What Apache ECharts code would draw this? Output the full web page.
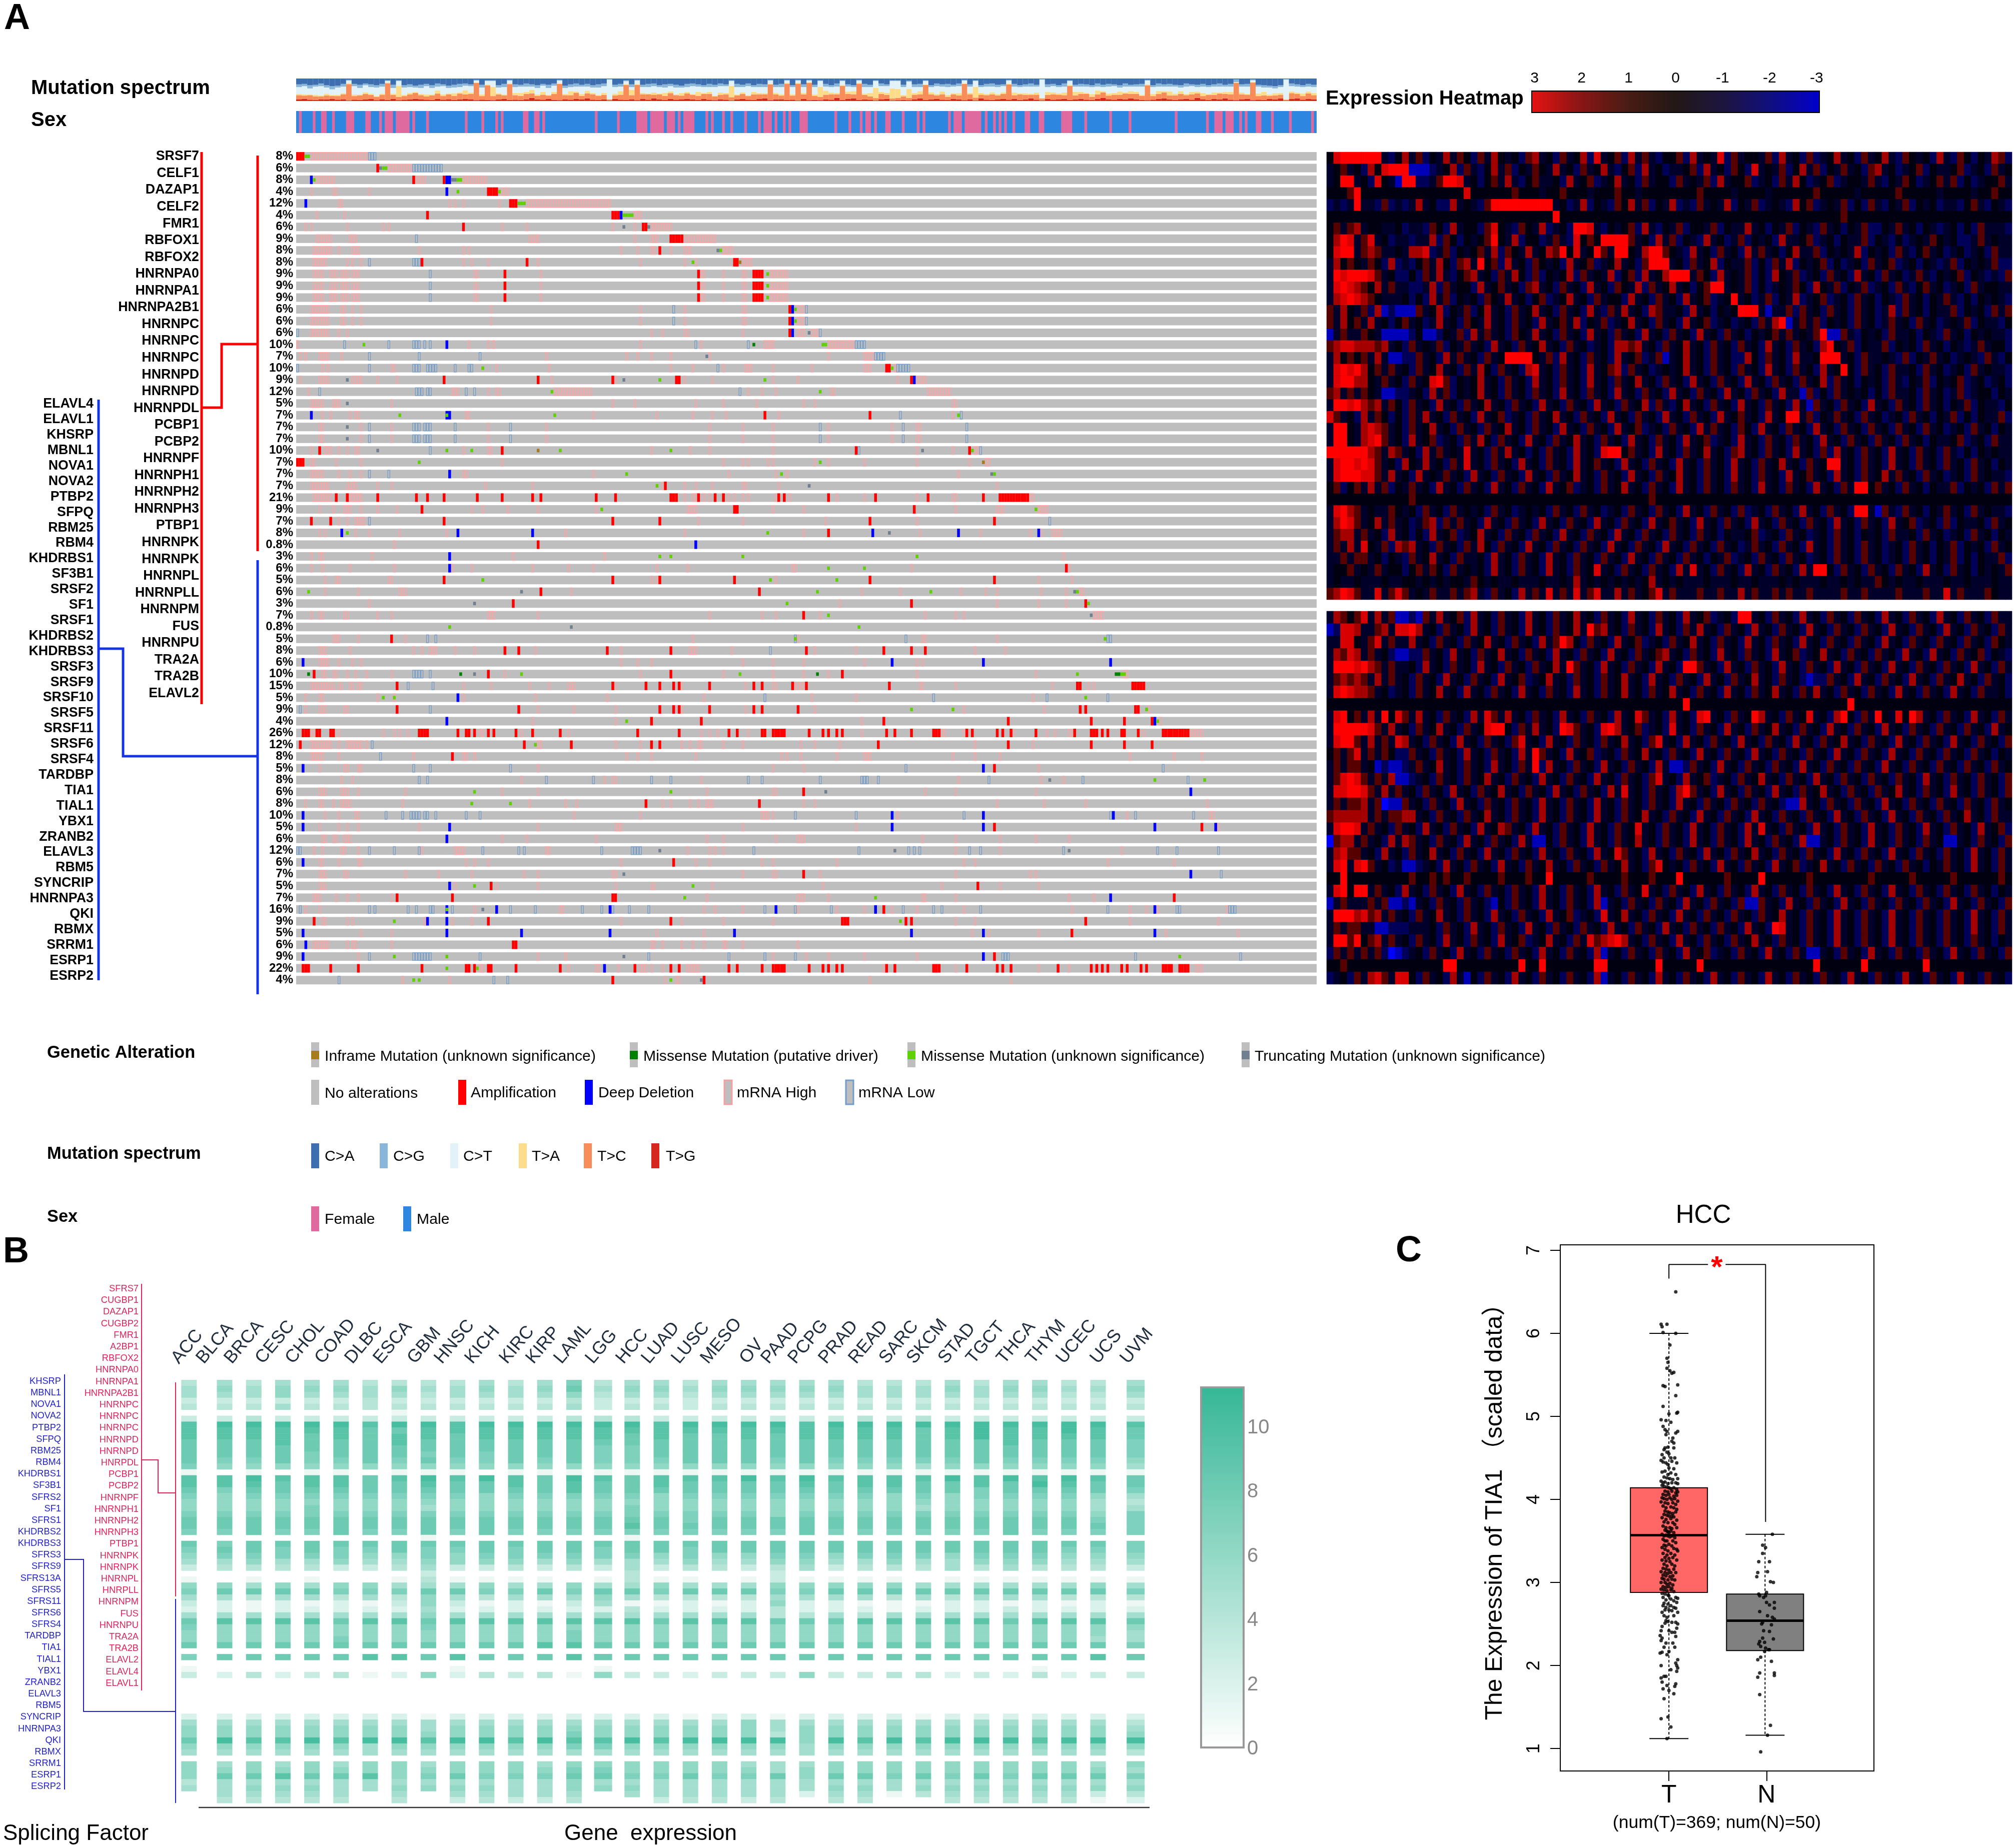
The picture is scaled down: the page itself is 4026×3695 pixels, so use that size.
<!DOCTYPE html>
<html>
<head>
<meta charset="utf-8">
<style>html,body{margin:0;padding:0;background:#fff}#main{width:4026px;height:3695px}</style>
<script src="https://cdn.jsdelivr.net/npm/echarts@6/dist/echarts.min.js"></script>
</head>
<body>
<div id="main"></div>
<script>
// ---------- panel A data ----------
var redGenes = ['SRSF7','CELF1','DAZAP1','CELF2','FMR1','RBFOX1','RBFOX2','HNRNPA0','HNRNPA1','HNRNPA2B1','HNRNPC','HNRNPC','HNRNPC','HNRNPD','HNRNPD','HNRNPDL','PCBP1','PCBP2','HNRNPF','HNRNPH1','HNRNPH2','HNRNPH3','PTBP1','HNRNPK','HNRNPK','HNRNPL','HNRNPLL','HNRNPM','FUS','HNRNPU','TRA2A','TRA2B','ELAVL2'];
var blueGenes = ['ELAVL4','ELAVL1','KHSRP','MBNL1','NOVA1','NOVA2','PTBP2','SFPQ','RBM25','RBM4','KHDRBS1','SF3B1','SRSF2','SF1','SRSF1','KHDRBS2','KHDRBS3','SRSF3','SRSF9','SRSF10','SRSF5','SRSF11','SRSF6','SRSF4','TARDBP','TIA1','TIAL1','YBX1','ZRANB2','ELAVL3','RBM5','SYNCRIP','HNRNPA3','QKI','RBMX','SRRM1','ESRP1','ESRP2'];
var rowPct = ['8%','6%','8%','4%','12%','4%','6%','9%','8%','8%','9%','9%','9%','6%','6%','6%','10%','7%','10%','9%','12%','5%','7%','7%','7%','10%','7%','7%','7%','21%','9%','7%','8%','0.8%','3%','6%','5%','6%','3%','7%','0.8%','5%','8%','6%','10%','15%','5%','9%','4%','26%','12%','8%','5%','8%','6%','8%','10%','5%','6%','12%','6%','7%','5%','7%','16%','9%','5%','6%','9%','22%','4%'];
var sampleCount = 369;

var ampEvents = {0:'0-2',1:'29',2:'42 53',3:'69-72',4:'77-79',5:'47 114-116',6:'60 125-126',7:'135-139',8:'131',9:'45 83 158-159',10:'75 145 165-168',11:'75 145 165-168',12:'75 145 165-168',13:'178',14:'178',15:'178',18:'213-214',19:'53 87 114 137-138 222',22:'169 207',25:'8 74 202 243',26:'0-2',28:'133',
29:'14 18 29 43 47 53 65 74 85 88 108 115 135-137 145 151 154 174 176 192 209 228 248 254-264',30:'45 158-159 223',31:'5 12 53 114 131 207 252',32:'192',33:'87',35:'278',36:'53 114 131 158 207 252',37:'88 167',38:'78 222 285',39:'183',41:'34',42:'75 80 112 135 184 212 222 227',44:'6 69 135 197',
45:'36 114 126 131 136 138 149 165 168 179 184 214 282-283 302-306',47:'36 80 131 136 138 149 165 168 181 283 285 303-304',48:'128 146 212 257 287 299 309',
49:'2-4 7-8 12-13 44-47 58 61-62 64 69 71 79 85 95 123 138 156 159 168-169 172-176 185 190 192 195 197 213 216 222 230-232 242 244 253 255 258 267 281 287-289 291 293 298 299 304 313-322',
50:'1 82 99 128 131 210 257 287 299 309',51:'56',52:'252',54:'183',55:'126 167',57:'252 327',60:'136',61:'183',62:'70 246',63:'36 56 114-115 317',64:'212',65:'6 69 135 197-199 220 222 285',66:'280',67:'78-79',68:'252',
69:'2-4 12 22 45 61-62 64 69-70 79 95 122 135 138 156 159 168 172-176 185 190 192 195 197 213 216 230-232 242 253 255 258 275 287 289 291 293 298 300 305 307 313-316 319-322',70:'114 147'};
var delEvents = {2:'5 54-55',3:'54',4:'3',5:'117',13:'179',14:'179',15:'179',16:'54',19:'223',22:'5 54-55',27:'55',32:'16 58 85 208 239 268',33:'144',34:'55',35:'55',43:'2 215 248 294',46:'58',48:'54 310',52:'2 248',54:'323',56:'2 215 248 295',57:'2 55 215 248 310 332',58:'54',60:'2',61:'323',62:'55',63:'294',64:'54 72 113 173 209 310',65:'47 54',66:'2 54 81 113 158 222 248 310',67:'3',68:'2 248',69:'111'};
var highEvents = {0:'5-25',1:'33-41',2:'7-13 43-46 60-68',3:'5 13-14 26 74-76',4:'15-16 55 57 60 73 83-113',5:'7 17 122-124',6:'3 5 18 31 33 74 83 114 122 128-135',7:'7-12 19-21 84-87 122 128-130 140-151',8:'6-12 15 20-22 44 60 62 117 123 128-129 135 140-142 154-157',9:'6-10 18 20 23 60 63 69 87 124 140 144 161-164',
10:'6-9 12-14 16-18 20-22 64-65 88 146-147 154 161-162 171-177',11:'6-9 12-14 16-18 20-22 64-65 88 146-147 154 161-162 171-177',12:'6-9 12-14 16-18 20-22 64-65 88 146-147 154 161-162 171-177',13:'5-11 16-17 20 23 70 124 140 161-162 181-183',14:'5-11 16-17 20 23 70 124 140 161-162 181-183',15:'5-11 15 18 128 132 140-141 161 181-183 186-188',16:'0 62 69 71 124 146 169-172 192-201',17:'1 3 8-11 16 90 119 123 128 135 149 192 205-208',18:'9 11 34-35 72 91 135 143 154 162-164 172 186 205-207 216-217',19:'1 8-11 20-23 29 36 92 115 140 150 172 181 217 224-227',
20:'4 56-58 69 72-73 93-106 163 168 173 193-194 228-236',21:'5-9 13-15 34 114 122 144 154 166 183 187 237-238',22:'9 12 19 21-22 61-62 107 130 143 150 155 174 237',23:'8-9 23 34 69 90 149 161 172 192 215 224-225',24:'8-9 23 34 69 90 149 161 172 192 215 224-225',25:'5 10-12 15 18 21-22 60 69-70 128 142 149 172 224 237 245-246',26:'5-6 14 23 74 154 161 163 170 172 187 192 205 224 243 249-250',27:'5-9 15 19 23 60-61 107 156 173 177 239',28:'5-11 18-21 29 34 68 85 132 140 144 150 161-162 174 253',29:'6-12 18-23 140 143-144 147 149 156 158 161 163 173 178 195 205 224 237-238 265-266',
30:'8 13 17-19 23 29 36 63 67 76 87 108 141-144 172 183 238 253-255 268-271',31:'15 18 21-24 145 161 191 224',32:'8 10 21 26 37 54 97 140 183 225 247 265 269 273-276',33:'35',34:'5 8-9 27 78 111 277',35:'5 9 19 35 56 63 85 98 107 130 141 179-180 222 279',36:'10 14-15 33-34 128 130 173 268 280',37:'10 22 37-39 99 204 218 240 249 253 269 278 283-284',38:'26 196 253 268 278',39:'5 8-9 17-18 29 34 69-71 87 149 168 173 189 227 238 241 288-291',
41:'13-15 22 39 143 181 226-227 253',42:'8-10 19 42 45 48-50 57 64 86 117 142-144 157 187 202 245 256',43:'8-11 15 20 23 117 123 128 161 172 183 205 224 226',44:'9-10 13-14 18 21 25 34 75 124 154 172 183 192 224 267 299-300',45:'5-13 15-16 19-20 22-23 60 70 84 91 98-100 115 139 162 172-173 180-183 225-226 238 273 286 288',46:'3 8-9 29 35 60 86 112 147 186 202 266',47:'3 8-10 17-18 87 100 115 139 162 187 241 270 308',48:'85 115 204 312',49:'5-6 15 31 35 37 40 66-67 81 98 146 149 152 163 204 233-234 241 259 271 274 279-280 306 323-327',
50:'5-12 15 18-23 25 87-88 115 124 139 142 145-146 154 161 182 187 196 245 266',51:'5-9 15 42 60-61 64 119 123 128 144 175 177 182 195 205-207 237 245 254 301 317 327',52:'8 17-18 22-23 87 172 183 268',53:'16 20 81 111 114-115 146 239 269 277',54:'8-10 16-18 22 39 74 87 148 172-173 227 238 267',55:'3 8-9 13 16-19 38 84 97 101 132 135 142 145 148-150 183 187 253 270 285 329',56:'10 15 21-22 100 124 168-170 172 217 300 330-331',57:'8 15 18 22 44 87 115-117 161 202 333',58:'9-10 13-14 17-19 74 83 108 148 154 173 181-183 226 238 254 267 279',59:'6 9 16-17 22 45 57-60 90-91 141 149 151 154 238 254 298',
60:'8-9 15 22-23 61 64 69 117 144 149 168 172 195 241 245 293 317',61:'8-10 17-18 39 51 63 82 87 114-115 161 172-173 189 238 265 267',62:'8-10 57 72 87 115 128-129 150 190 233 254 268',63:'6-8 14 18 22 34 148 181-183 192 226-227 238 279 288',64:'3 8 64 95-96 147 151 161 181 195 205 215 224 241 280 301 307 311 336',65:'9-10 18 20 46 56 63 117 139 154 172 238 245 301 333',66:'23 34 130 147 244 250 268 314 340',67:'6-11 18 20-21 34 128-129 132 139 143 147 154-155 161 181',68:'22 87 97 172 184 192 205 224',69:'66-67 98 108-109 116 124-126 128 132 141-145 212 238 268 279 325-327',70:'38 55 133 137-138 207 258'};
var lowEvents = {0:'26-28',1:'42-52',7:'43',9:'26 42-44',10:'48',11:'48',12:'48',13:'136 184',14:'136 184',15:'0 189',16:'17 33 42-44 46 48 144 163 202-205',17:'26 44 66 209-212',18:'0 26 42-44 47-50 57 62-63 152 217-221',20:'8 43-45 47-48 61 64 160',22:'218 240',23:'26 42-44 46-48 57 77 189 219 242',24:'26 42-44 46-48 57 77 189 219 242',25:'48 203 247',27:'26 33',31:'26 272',41:'47 50 180 220 293-294',42:'171',44:'42-45 48',45:'40 49',46:'169 230 271 293',47:'1 48',50:'27',51:'30',52:'42 48 77 220 313',53:'44 47 90 107 128 135 163 168 189 204-206 210 250 284 322',56:'32 38 41-44 46-47 50 61 66 180 202 241 294 303 324',59:'0-1 26 35 44 67 80 82 110 121-124 165 203 221 223 225 243 247 277 311 318 333',61:'334',64:'1 26 28 40 43 48-49 56 77 86 103 110 114 120 127 169 180 193 219 230 233 247 293 318-319 337-339',68:'26 42-48 66 127 156 169 180 255-257 303 341',70:'15 71 76'};
var misEvents = {0:'3-4',1:'31-32',2:'6 58-59',3:'58 73',4:'80-82',5:'118-121',8:'153',9:'143',10:'170',11:'170',12:'170',13:'180',14:'180',16:'24 190-191',18:'67 215',19:'131 169',20:'92 189',22:'37 54 93 239',25:'54 63 95 135 244',26:'44 189',27:'119 175 252',28:'130',30:'110 267',32:'18 170',34:'131 135 161 224',35:'192 205',36:'67 171 195',37:'4 188 229 282',38:'177 286',39:'192',40:'55 203',41:'180 292',44:'81 160 282 298-299',46:'31 35 285',47:'222 237 307',48:'119 311',50:'86',53:'310 328',54:'64 135',55:'63 77',62:'64 143',63:'140 209',64:'54',65:'35 218',68:'35 54 319',69:'54 65',70:'42 44 135'};
var drvEvents = {16:'165',44:'4 59 188 296-297'};
var truncEvents = {1:'30',2:'56-57',6:'118 127',8:'152',15:'185',17:'148',19:'18 118',21:'18',23:'18',24:'18',25:'29 226',27:'251',28:'185',32:'214',37:'81 281',38:'64',39:'287',40:'99',44:'64',53:'272',54:'191',59:'131 216 279',61:'118',64:'67',68:'118',70:'146'};
var inframeEvents = {9:'160',25:'87',26:'248'};

// first sample and length of every run of female samples, the rest are male
var sexFemale = [[1,1],[6,1],[9,2],[13,1],[18,3],[25,2],[30,1],[32,3],[36,5],[42,1],[47,1],[61,1],[67,1],[72,1],[74,1],[82,2],[86,2],[89,1],[108,1],[116,1],[123,4],[128,5],[134,3],[138,1],[140,4],[148,1],[150,1],[154,1],[157,1],[162,1],[167,1],[169,3],[173,1],[176,1],[178,1],[182,3],[194.6,1],[199.7,1],[203.8,1],[205.8,2],[209,1],[213,2],[219,1],[224.4,1],[226.5,1],[235.7,1],[237.7,3],[241.7,6],[249,1],[252,1],[254,1],[256,1],[259,1],[263.4,2],[268.5,2],[276.6,4],[285,1],[294,1],[301,1],[317.7,1],[329,1],[332,3],[336,3],[341,1],[343,1],[347,2],[352.5,1],[359,1],[367,1]];

// mutation spectrum, share of each class in 184 columns (2 samples each); C>T is what is left of 100
var specCA = [26,24,30,28,22,30,34,32,24,6,24,28,22,26,30,24,8,28,8,30,
26,32,28,24,30,22,26,32,28,24,22,26,6,28,8,8,30,24,6,26,
28,22,26,30,24,28,22,6,32,26,22,28,24,30,26,22,3,28,24,8,
26,6,28,24,22,30,26,24,28,32,24,22,26,30,24,28,22,26,8,24,
28,22,30,24,26,6,28,24,6,30,6,26,6,28,8,24,30,22,8,26,
30,6,24,28,8,22,26,8,8,28,10,26,24,8,30,22,26,24,28,22,
6,26,8,30,24,22,28,26,6,24,30,26,22,28,3,26,24,30,22,8,
28,24,26,30,22,28,24,26,30,22,28,26,24,6,30,22,26,24,28,30,
22,26,28,24,30,26,22,28,24,4,26,24,4,28,30,32,34,30,3,22,
26,30,24,28];
var specCG = [12,10,14,8,12,10,14,8,12,3,10,14,8,12,10,12,3,14,3,10,
12,8,14,10,12,14,8,10,12,14,10,8,3,12,3,3,10,14,3,12,
8,14,10,12,8,14,10,3,10,12,14,8,12,10,14,12,2,10,12,4,
12,3,10,14,12,8,14,10,12,8,14,12,10,8,14,10,12,8,3,14,
10,12,8,14,12,3,10,14,3,8,3,12,3,10,3,12,8,14,3,10,
8,3,14,10,3,12,8,3,3,10,4,12,14,3,8,12,10,14,8,12,
3,10,3,8,12,14,10,8,3,12,8,10,14,8,2,12,10,8,14,3,
8,12,10,8,14,10,12,8,10,14,8,10,12,3,8,14,10,12,8,10,
14,8,10,12,8,10,14,8,12,12,10,12,4,8,10,8,10,8,2,12,
10,8,12,10];
var specTA = [5,6,4,7,5,8,4,6,5,4,7,5,8,6,4,5,3,6,50,6,
8,4,6,10,5,14,8,4,12,6,18,6,3,8,4,40,6,4,3,10,
14,8,16,6,12,4,10,3,6,18,5,8,12,6,4,10,2,8,16,4,
24,3,6,4,10,5,14,8,4,12,6,5,18,6,8,4,10,6,50,5,
8,4,12,6,5,3,8,6,4,6,3,8,4,6,45,18,8,6,4,10,
14,4,6,16,45,8,10,45,40,6,40,8,14,3,10,6,12,8,5,10,
3,6,48,8,5,10,6,8,3,12,6,8,5,10,2,14,8,6,12,4,
16,8,5,12,18,6,10,8,14,6,12,8,5,4,10,14,6,18,8,12,
6,10,8,14,5,12,6,8,10,3,8,4,3,12,16,6,10,8,2,8,
6,12,8,10];
var specTC = [18,14,20,16,12,18,14,16,22,72,16,20,24,18,14,20,74,18,14,16,
22,26,18,14,20,24,16,22,18,26,20,24,76,16,64,18,22,16,70,20,
18,24,20,16,22,14,26,72,18,20,28,16,22,24,18,20,4,16,22,66,
18,68,20,24,16,22,18,26,20,16,24,20,18,22,26,16,20,24,14,18,
22,16,24,20,18,70,22,16,72,18,74,20,76,18,14,20,24,16,62,22,
18,72,20,14,10,24,18,8,10,16,10,20,18,66,22,16,24,14,20,18,
72,22,12,16,20,24,18,22,68,16,24,20,16,22,8,18,24,20,16,62,
18,22,26,14,20,24,16,22,18,26,20,24,18,66,16,22,26,18,20,24,
16,24,20,14,22,18,26,20,24,76,22,18,78,16,20,14,18,16,4,26,
20,16,24,18];
var specTG = [8,10,6,5,8,7,9,6,8,3,6,5,7,9,4,8,5,9,4,6,
7,10,8,6,5,9,6,8,5,7,10,8,4,6,5,4,7,9,5,6,
5,8,14,7,6,10,5,4,8,6,9,7,12,6,5,7,3,9,6,5,
8,4,10,6,12,7,5,9,6,8,10,7,5,9,6,4,8,6,3,7,
9,6,5,10,12,4,7,8,5,6,3,9,4,5,4,8,6,14,5,10,
12,5,7,6,3,8,9,3,4,5,4,8,12,5,7,9,6,5,10,7,
4,8,3,12,6,5,7,9,6,10,5,7,12,6,3,9,6,8,10,5,
7,10,6,5,9,14,8,6,10,7,12,8,5,4,6,9,12,7,5,8,
10,6,14,8,5,9,7,12,6,4,8,10,4,6,5,9,7,12,2,9,
12,6,10,8];

// expression heatmap, one character per cell: 0 = -3 (blue) ... 4 = 0 (black) ... 8 = +3 (red)
var heatTop = [
'4788888832 4635243635 4253643425 6342534627 3452635324 4526343725 3443526342 5234634253 4632543426 3254243652',
'3453426478 8811123462 5324635243 5436342534 6324526342 3345263425 4273435246 3524353425 6342345243 3452342534',
'3488342743 1882235887 3424536324 5334263452 3463425344 2534352634 4523425364 2345234435 3243542345 3524234453',
'4445844444 4444444444 7444444544 4344544434 4454434444 4444544443 4444344444 4544444344 4445444443 4444344544',
'2323833252 3236342263 4325888888 8883423624 3254635243 6232534362 4352343264 5234352425 3243524342 3324532432',
'4444444444 4444444444 4444444444 4448444444 4444444444 4444444444 4444444444 4444454444 4444444444 4444444444',
'4535634433 4233254263 4425743254 3623428873 2434526324 3524435243 3634243524 3253424352 2435342432 3424253332',
'4687357342 3323362542 4345843624 4235327454 8888534263 5243263423 5243426334 5234243352 4324234354 3422353433',
'4788356533 4366723524 3453625436 3465847348 5388436885 4326342534 2635342463 3524343624 3425324534 2342342533',
'3645435426 2324536425 6384526342 5434263452 3463425888 3425346243 3524253624 3452423425 3452342432 3524343522',
'3878887534 2242536324 5634253642 5243462534 3624526346 8883542634 3524264352 3425342634 2534235324 3452432325',
'3787654635 3322362534 4263453425 6342534263 4254362534 6342458834 3524234354 2643524352 3425324534 2342534433',
'3678765433 3424263524 3425436342 4523463425 3442634253 4263452348 3423524362 3452342534 2432534243 5324243432',
'5364352612 1115346243 5246342534 6342534263 2536342653 3426342434 8883133525 3425342534 2362534243 3524342535',
'5364536342 4534236342 5436342534 2634536243 5234634253 4263452342 3425368135 3524342534 2353425342 3435243324',
'1353354311 1124112435 2635342543 6342534263 4253426342 5342634253 4243453534 3581153243 4253342432 5342434332',
'5677666563 4253435243 5342634253 4634253423 4266563425 3463425342 5342634253 4268435243 3524342534 2432353442',
'3645453631 1225342635 3425348888 4352634253 4263452351 3463425342 2642534263 3488834253 3432524353 4234325324',
'3787864535 3425346342 5364253426 7342534263 4562534234 3463425342 5342634253 4263484253 4253342534 2342534332',
'3788664353 4253478524 3463425342 6342534263 4253463425 3426342534 2634253425 3462534243 4253243524 3452342342',
'5635354311 2234263524 3463425342 5342634253 4263425342 6342534263 4253426331 5242534342 4253342534 2352344243',
'3887865635 4253426342 5346342534 2634253426 3425346253 2463425342 6342534263 1534253426 3425342534 2435243324',
'7534263542 4253634253 4263452342 5346342534 2634253426 3425342634 5342634883 5243534253 4234253424 3524243352',
'3884367653 4253463425 3425346342 5342634253 4263452342 5342635342 5426342534 2634253425 3425342534 2342534243',
'3884367853 4263452342 5364253426 3425346342 5342634253 4263452342 6342534253 4263425342 5342534243 3452342533',
'8888886536 5342635343 7342536342 4253426342 7884534263 4253463425 6342534263 4252634253 4263425342 5324243433',
'3788787534 2643634253 7342534263 4253426345 3426342534 2634253426 3425346342 5348834253 4263425342 5342534243',
'3788877536 3426343534 2634253426 3425346342 5342634253 4634253426 3425342634 5342634253 4635342534 2342534332',
'4524536352 4353426342 5342634253 4263452342 5346342534 2634253425 3426342534 2634253884 5342534243 3524342535',
'4444444444 4454444444 4444444444 4444444444 4444444544 4444444444 4444444444 4444444444 4444444444 4444444444',
'3786534335 4342534253 4342534234 3425342534 2342534253 4263425342 5234253426 3425342883 1532534243 5342534332',
'3687534635 3423562535 3426342534 2634253426 3425342634 5342634253 4263425342 5342634253 4263452342 5243342534',
'3566353426 3424263452 3463425342 5342634253 4263425342 5342534243 3452342534 2342534243 4253342534 2342534243',
'3536374352 6563425342 5364253426 3425342534 2634253426 3425342534 2353425342 6342534253 4234253424 3524342534',
'3353553424 3253463425 3342634253 4263425342 5342634253 4253424352 3425342534 2342534253 4234253424 3524243352',
'3445343534 4245354253 4342634253 4263425347 3425342534 2637342534 2634253426 3884253425 3425342634 2534243435',
'3433433343 3443434344 3543433433 3433436343 4343434634 3433343334 3343334343 3343343433 5434334333 4334333433',
'5687533735 7534353353 5632534263 5373537357 3363534573 5333533533 6353353533 5333353353 3335333533 7353335433'
];
var heatBottom = [
'3654573635 1121536345 2634253426 3425346342 5342634253 4263452342 8834253426 3425342534 2634253426 3425342533',
'1277633563 7786342534 2634253426 3425346385 6342534263 4253634253 4263425342 6342534253 4263425342 6342534253',
'3377435735 3363425342 5346342534 2635864253 4263452342 5346342534 2634253426 3425342534 2634253425 3425342543',
'3657635342 1122534263 4253463425 3426342534 2634253456 3425342634 2534263452 3463425342 5342634263 4253452432',
'3888786535 3342634253 4263425342 5346385342 6342534263 4288534263 4253426342 5342634253 4263425342 5342634253',
'3565653635 3425342634 2534263452 3463425342 5346342634 2534263425 3463425342 1225342634 2534263425 3463425342',
'3787665342 3425346342 6342534263 4253426342 5346342534 6342534263 4253463425 3634253425 3426342534 2634253342',
'4444444444 4444444444 4444444444 4444444444 4444444444 4484444444 4444444444 4444448444 4444444444 4444444444',
'3784536384 7536342534 2637536342 5342634253 4263475342 6342783425 3486342534 7342684253 8437486342 5342634253',
'3888887536 3425346342 5347884253 6342875342 7863452342 7342534263 4253463425 3426342534 2634253425 3425342634',
'3788536353 7634253426 3425342573 4263425342 5346342573 4263425342 6342534263 4253463425 3426342534 2634253425',
'4535735354 2253425342 6342534263 8534263452 3425346342 5342634253 4263425342 5342634253 4263425342 5342534243',
'3535534121 1235346342 5342634253 8263425342 6342534263 1125342634 2534253426 3425342534 2634253425 3425342534',
'3578753536 1123425342 5346342534 2634253426 3425342573 4263452342 5346342534 2634253425 3425342634 2534253425',
'3778875363 5342534263 4253463425 3426342534 2637342534 2685342634 2534263425 3463425342 5346342534 2634253425',
'3535563501 1534253426 3425342534 2634253426 3425342534 2634253425 3425342116 3425342534 2634253425 3425342534',
'5666663535 5663425342 5346342534 2634253426 3425346342 5342634253 4263425342 5342634253 4263425342 5346342533',
'3788735342 5342634253 4263465342 6342534263 4253473425 3426342534 2637342534 2634253426 3425342634 2534263452',
'0566353426 3653425342 6342534263 1142534263 4253463425 3426342534 2634253426 1134253426 3425342534 1134253425',
'3675534263 4253463425 3426342534 2634253426 3475342634 2534263425 3463425342 5342634253 4263425342 5342634253',
'3783785342 3112342634 2534263425 3463425342 5346342574 3425342634 2534263452 3463425342 5342534243 5342634253',
'4484444444 4454454544 5444454445 4484444454 4445444544 4844444454 4448444444 5444444445 4444454444 4544444454',
'3784883534 2634253426 3425342534 2634253426 3425347342 5342634253 4263425342 5342634253 4263425342 5342534243',
'1353335351 1213425342 5342142534 2634253426 1342534253 4263425342 5115342634 2534263425 3425342534 2634253425',
'3888675635 3425346342 5342634253 4263452342 7346342534 2634253425 3425346342 5342634253 4263425342 5342634253',
'3535533112 2233342534 2634253426 3425342534 2634253426 3425342534 2634287342 5342634253 4263425342 5342634253',
'3885845635 3425342634 2534263452 3463425375 6786342534 2634253425 3463425342 5342634253 4263425342 5342534243',
'2535353520 1234253426 3425342534 2634253426 1342534253 4263452342 5342634253 1134253426 3425342534 2634253425',
'4454444444 4444444884 4444444484 4844444448 8444444484 4444844444 4444444444 4844444484 4444444844 4444444444',
'2342536753 7742534263 1425342634 2534253426 1342534263 4253426342 5342634253 4253426342 5342634253 4263425342'
];
var heatColumns = 100;

// ---------- panel B data ----------
var cancerTypes = ['ACC','BLCA','BRCA','CESC','CHOL','COAD','DLBC','ESCA','GBM','HNSC','KICH','KIRC','KIRP','LAML','LGG','HCC','LUAD','LUSC','MESO','OV','PAAD','PCPG','PRAD','READ','SARC','SKCM','STAD','TGCT','THCA','THYM','UCEC','UCS','UVM'];
var redFactors = ['SFRS7','CUGBP1','DAZAP1','CUGBP2','FMR1','A2BP1','RBFOX2','HNRNPA0','HNRNPA1','HNRNPA2B1','HNRNPC','HNRNPC','HNRNPC','HNRNPD','HNRNPD','HNRPDL','PCBP1','PCBP2','HNRNPF','HNRNPH1','HNRNPH2','HNRNPH3','PTBP1','HNRNPK','HNRNPK','HNRNPL','HNRPLL','HNRNPM','FUS','HNRNPU','TRA2A','TRA2B','ELAVL2','ELAVL4','ELAVL1'];
var blueFactors = ['KHSRP','MBNL1','NOVA1','NOVA2','PTBP2','SFPQ','RBM25','RBM4','KHDRBS1','SF3B1','SFRS2','SF1','SFRS1','KHDRBS2','KHDRBS3','SFRS3','SFRS9','SFRS13A','SFRS5','SFRS11','SFRS6','SFRS4','TARDBP','TIA1','TIAL1','YBX1','ZRANB2','ELAVL3','RBM5','SYNCRIP','HNRNPA3','QKI','RBMX','SRRM1','ESRP1','ESRP2'];
// one character per cancer type (0 to b = 0 to 11), one row per splicing factor
var exprRows = [
'45455544445 45745545555 54445455445','56566656556 56856656666 65556566556','55565555455 55645545555 55555555445','33333343333 33433333333 33333333333','44454444444 44534434444 44444444444','00000001000 00000000000 00000000000','33433333333 33444333333 34343333333',
'9aaaaa9aa9a aaaaa9aaaa9 aaaaaaaaaa9','99999988999 99999999999 99989a99a98','99998989989 99998988989 99989a99998','88898889888 88888888888 88888898887','88888888888 88877888888 88888888887','88887888787 88877888888 88888888887','87787787877 87877788878 77777877776','76666666666 66666666666 66656666665','10101101110 11111111111 11111111111',
'99a99989a9a 98a98999a9a 9999a9a9a98','99989988988 98988988889 8998898a988','87888888888 88988888888 88888788887','76777777776 77777677777 77676777765','66666666666 66666666666 66666666654','66667666566 66667666666 66656666655','77777777777 77777777767 77777777767','88888888888 88888878888 88888888877','88888888888 88889888888 88888888887','77877877878 77777777778 77777787777','00000000100 00001000000 00000000000',
'87888888888 88888888888 88888888887','78878778778 78878878888 88888888777','67777766767 77777676677 67776777666','55655655666 65655565566 55655666555','34444334533 43435344345 34445454443','00000000300 00004000030 00000000000','10101001411 11014110131 11101111111',
'66565665556 55655655566 66655555565','78888777887 78788788877 88888888887','55455454654 55565444455 55454555444','32121213631 21351121262 21112212121','22122222522 22224222242 22122232222',
'55555555655 55555555544 54555555555','89999899899 99999899988 89999989998','76666666766 66666666666 66666666666','66666666666 66766666666 66666666665','66666766666 66766666666 66666666655','88888888888 89988888888 88888888887','00000000000 00000000000 00000000000','78888899898 88988888888 88888888898','00000000000 00000000000 00000000000','10000000010 00010000000 00000001000',
'32423412624 34163323336 33442324233','00000000000 00000000000 00000000000','00000000000 00000000000 00000000000','00000000000 00000000000 00000000000','00000000000 00000000000 00000000000','00000000000 00000000000 00000000000','00000000000 00000000000 00000000000','22222222122 22222212212 22212222222',
'55555555555 55555555655 55555555554','66666666566 66666666656 66666666665','66666666666 66766666646 66666666666','8a99a9aa9aa 9a99a9aaaa6 a9a9aaa9aaa','66666656666 66776666665 66666666666','55555555555 55555555555 55555555554','00000000000 00000000000 00000000000',
'65656566566 65666666555 66666666656','66666666666 66776666656 66666666665','68898896787 77887787786 88787878887','45555555555 55655555555 55555555555','55666556666 55666555555 66566666666','05555505055 55505555552 55145555534','04444404034 33400344340 44004444412'
];
var exprBarTicks = [0,2,4,6,8,10];

// ---------- panel C data ----------
// x, q1, median, q3, lower whisker, upper whisker
var boxT = [1,2.88,3.57,4.14,1.12,6.0];
var boxN = [2,2.18,2.54,2.86,1.16,3.58];
var bracket = [[1,6.66],[1,6.83],[1.40,6.83],'-',[1.58,6.83],[1.99,6.83],[1.99,3.73]];
var pointsN = [[2.06,3.58],[1.96,3.45],[1.99,3.42],[1.96,3.35],[1.92,3.25],[2.03,3.25],[2.01,3.13],[1.91,3.12],[1.90,3.07],[2.04,3.01],[2.07,3.0],[1.92,2.86],[1.93,2.84],[2.0,2.88],[1.99,2.84],[1.97,2.82],[2.0,2.76],[2.08,2.76],[2.03,2.73],[2.08,2.69],[1.93,2.65],[2.01,2.6],[2.06,2.58],[2.08,2.56],[1.96,2.52],[1.95,2.5],[2.05,2.49],[1.97,2.42],[2.03,2.41],[1.96,2.33],[1.93,2.29],[2.07,2.32],[1.92,2.26],[1.98,2.28],[1.94,2.23],[1.99,2.21],[2.02,2.19],[2.03,2.19],[1.98,2.17],[1.94,2.10],[1.91,2.07],[2.05,2.05],[1.93,1.91],[2.08,1.91],[2.08,1.88],[1.91,1.86],[1.93,1.65],[2.04,1.28],[2.01,1.16],[1.94,0.96]];
var pointsT = [[1.07,6.5],[.92,6.11],[.98,6.11],[.93,6.08],[.94,6.01],[1.07,6.0],[1.01,5.86],[.98,5.7],[.99,5.65],[.98,5.58],[1.01,5.55],[1.05,5.53],[1.03,5.52],[.94,5.37],[.96,5.36],[1.09,5.38],[1.07,5.25],[.94,5.12],[1.09,5.05],[1.08,5.04],[1.0,5.03],
[.92,4.96],[.97,4.95],[1.02,4.93],[.94,4.88],[.96,4.84],[.98,4.82],[1.09,4.82],[1.07,4.8],[.97,4.78],[1.04,4.74],[1.03,4.7],[1.05,4.68],[.99,4.63],[.96,4.62],[.95,4.6],[.98,4.57],[1.05,4.62],[1.0,4.55],[.93,4.54],[.95,4.5],[1.02,4.5],[1.06,4.5],[.92,4.47],[.94,4.45],[.97,4.44],[1.03,4.46],[1.08,4.44],[.99,4.42],[1.0,4.38],[1.05,4.37],[.96,4.34],[.93,4.33],[1.02,4.32],[.99,4.3],[1.07,4.3],[.95,4.27],[.98,4.26],[1.01,4.25],[1.04,4.24],[1.09,4.25],[.92,4.22],[.94,4.2],[.96,4.21],[.99,4.19],[1.03,4.2],[1.07,4.2],[1.09,4.19],[.93,4.17],[.95,4.16],[.98,4.15],[1.0,4.14],[1.02,4.13],[1.05,4.14],[1.08,4.12],
[.96,4.1],[.99,4.09],[1.03,4.1],[1.07,4.08],[1.09,4.09],[.94,4.06],[.97,4.05],[1.0,4.06],[1.05,4.04],[1.08,4.05],[.93,4.02],[.95,4.01],[.98,4.0],[1.01,4.02],[1.03,4.0],[1.06,4.01],[1.09,3.98],[.92,3.97],[.96,3.96],[.99,3.95],[1.04,3.96],[1.07,3.94],[.94,3.92],[.97,3.9],[1.02,3.91],[1.05,3.9],[1.08,3.88],[.96,3.86],[.99,3.85],[1.01,3.84],[1.04,3.83],[1.07,3.85],[.95,3.82],[.98,3.81],[1.0,3.8],[1.03,3.8],[1.05,3.79],[.93,3.78],[.97,3.76],[1.02,3.77],[1.08,3.75],[.95,3.73],[.99,3.72],[1.04,3.72],[1.06,3.7],[.94,3.68],[.97,3.66],[1.01,3.66],[1.03,3.65],[1.08,3.66],[.96,3.63],[.98,3.62],[.99,3.61],[1.0,3.6],[1.02,3.62],[1.05,3.6],[.93,3.58],[.95,3.56],[.97,3.57],[.99,3.56],[1.01,3.55],[1.03,3.56],[1.06,3.54],[.94,3.52],[.96,3.5],[.98,3.5],[1.04,3.5],[1.07,3.48],[.95,3.45],[.97,3.44],[1.0,3.46],[1.03,3.44],[.93,3.42],[.96,3.4],[.99,3.38],[1.05,3.41],[1.08,3.4],[1.09,3.38],[.94,3.35],[.98,3.33],[1.02,3.35],[1.06,3.33],[.96,3.3],[1.0,3.29],[1.04,3.3],[.93,3.27],[.97,3.26],[1.01,3.25],[1.08,3.27],[.95,3.22],[.98,3.2],[1.03,3.22],[1.06,3.2],[.94,3.17],[.97,3.16],[1.0,3.15],[1.05,3.16],[.92,3.13],[.96,3.12],[.99,3.11],[1.02,3.12],[1.07,3.12],[.94,3.09],[.97,3.08],[1.01,3.07],[1.04,3.08],[.93,3.05],[.95,3.04],[.99,3.03],[1.03,3.04],[1.06,3.03],[.92,3.0],[.96,3.0],[.98,2.98],[1.01,2.99],[1.04,2.97],[.94,2.95],[.97,2.94],[1.0,2.95],[1.03,2.93],[.92,2.92],[.95,2.91],[.98,2.9],[1.02,2.91],[1.05,2.89],[.93,2.87],[.96,2.86],[.99,2.85],[1.0,2.84],[.94,2.82],[1.07,2.82],[1.09,2.81],[.97,2.79],[1.02,2.8],[1.05,2.78],[.95,2.75],[.99,2.74],[1.08,2.76],[.94,2.72],[.97,2.7],[1.02,2.72],[1.05,2.7],[1.07,2.69],[.96,2.67],[1.0,2.67],[1.03,2.66],[.93,2.64],[1.09,2.64],[.95,2.6],[.98,2.58],[1.05,2.6],[.97,2.54],[.99,2.53],[.96,2.51],[1.03,2.52],[1.07,2.52],[1.09,2.5],[.93,2.47],[1.08,2.45],[.92,2.42],[1.0,2.42],[1.03,2.4],[1.06,2.4],[.91,2.36],[.93,2.33],[1.07,2.35],[.92,2.3],[.97,2.27],[1.04,2.27],[.95,2.22],[1.06,2.22],[.91,2.15],[.93,2.16],[1.0,2.17],[.98,2.13],[1.09,2.07],[1.07,2.03],[.92,2.0],[1.08,2.0],[1.09,1.97],[1.08,1.93],[1.02,1.95],[.97,1.87],[.92,1.85],[.95,1.87],[.93,1.8],[.98,1.76],[1.07,1.78],[1.06,1.75],[.94,1.72],[1.0,1.7],[1.05,1.66],[.95,1.6],[.92,1.36],[.99,1.38],[1.02,1.26],[.98,1.12]];

// ---------- helpers ----------
var FONT = '"Liberation Sans", Arial, sans-serif';
var CJK = '"Liberation Sans", "Noto Sans CJK SC", sans-serif';

function expand(str) {
    var out = [];
    str.split(' ').forEach(function (part) {
        if (!part) return;
        var p = part.split('-');
        var a = +p[0], b = p.length > 1 ? +p[1] : a;
        for (var i = a; i <= b; i++) out.push(i);
    });
    return out;
}
var oncoData = [];
function addEvents(table, kind) {
    Object.keys(table).forEach(function (row) {
        expand(table[row]).forEach(function (s) { oncoData.push([s, +row, kind]); });
    });
}
// boxes first so that solid marks stay on top
addEvents(highEvents, 0);
addEvents(lowEvents, 1);
addEvents(ampEvents, 2);
addEvents(delEvents, 3);
addEvents(misEvents, 4);
addEvents(drvEvents, 5);
addEvents(truncEvents, 6);
addEvents(inframeEvents, 7);

var MARK_COLOR = ['#ffa3a3', '#6f9ccb', '#ff0000', '#0000ff', '#5fd000', '#008000', '#708090', '#a67c1f'];
function renderOnco(params, api) {
    var kind = api.value(2);
    var p = api.coord([api.value(0), api.value(1)]);
    var w = api.size([1, 0])[0];
    var h = 17;
    if (kind < 2) {
        return { type: 'rect', shape: { x: p[0] + 0.7, y: p[1] - h / 2 + 0.7, width: w - 1.4, height: h - 1.4 },
            style: { fill: 'rgba(0,0,0,0)', stroke: MARK_COLOR[kind], lineWidth: 1.3 } };
    }
    if (kind < 4) {
        return { type: 'rect', shape: { x: p[0], y: p[1] - h / 2, width: w, height: h }, style: { fill: MARK_COLOR[kind] } };
    }
    return { type: 'rect', shape: { x: p[0], y: p[1] - 3.5, width: w, height: 7 }, style: { fill: MARK_COLOR[kind] } };
}
function renderSex(params, api) {
    var a = api.coord([api.value(0), 0]);
    var b = api.coord([api.value(0) + api.value(1), 1]);
    return { type: 'rect', shape: { x: a[0], y: b[1], width: b[0] - a[0], height: a[1] - b[1] },
        style: { fill: api.value(2) ? '#df6a9f' : '#2d87e0' } };
}
function heatCells(rows) {
    var out = [];
    rows.forEach(function (line, r) {
        var str = line.replace(/ /g, '');
        for (var c = 0; c < heatColumns && c < str.length; c++) out.push([c, r, +str.charAt(c)]);
    });
    return out;
}
var exprData = [];
exprRows.forEach(function (line, r) {
    var str = line.replace(/ /g, '');
    for (var c = 0; c < str.length; c++) {
        var v = parseInt(str.charAt(c), 36);
        if (v > 0) exprData.push([c, r, v]);
    }
});
function renderExpr(params, api) {
    var c = api.value(0);
    var p = api.coord([c, api.value(1)]);
    var rowH = api.size([0, 1])[1];
    // ACC and UVM stand a little apart from the other columns
    var shift = c === 0 ? -13 : (c === 32 ? 17 : 0);
    var w = c === 14 ? 36 : (c === 32 ? 36 : 31);
    return { type: 'rect', shape: { x: p[0] + shift - w / 2, y: p[1] - rowH / 2, width: w, height: rowH + 0.5 },
        style: { fill: api.visual('color') } };
}
function renderBox(params, api) {
    var x = api.value(0), q1 = api.value(1), med = api.value(2), q3 = api.value(3), lo = api.value(4), hi = api.value(5);
    var halfW = 77, capW = 39;
    var pQ1 = api.coord([x, q1]), pQ3 = api.coord([x, q3]), pMed = api.coord([x, med]), pLo = api.coord([x, lo]), pHi = api.coord([x, hi]);
    var cx = pQ1[0] - (params.dataIndex === 1 ? 3 : 0);
    var fill = params.dataIndex === 0 ? '#ff6666' : '#808080';
    var black = { stroke: '#000', lineWidth: 2 };
    var dash = { stroke: '#000', lineWidth: 2, lineDash: [5, 4] };
    return { type: 'group', children: [
        { type: 'line', shape: { x1: cx, y1: pHi[1], x2: cx, y2: pQ3[1] }, style: dash },
        { type: 'line', shape: { x1: cx, y1: pQ1[1], x2: cx, y2: pLo[1] }, style: dash },
        { type: 'line', shape: { x1: cx - capW, y1: pHi[1], x2: cx + capW, y2: pHi[1] }, style: black },
        { type: 'line', shape: { x1: cx - capW, y1: pLo[1], x2: cx + capW, y2: pLo[1] }, style: black },
        { type: 'rect', shape: { x: cx - halfW, y: pQ3[1], width: 2 * halfW, height: pQ1[1] - pQ3[1] }, style: { fill: fill, stroke: '#000', lineWidth: 2 } },
        { type: 'line', shape: { x1: cx - halfW, y1: pMed[1], x2: cx + halfW, y2: pMed[1] }, style: { stroke: '#000', lineWidth: 5 } }
    ] };
}

// ---------- text, lines, legend swatches ----------
var g = [];
function txt(x, y, s, font, fill, align, rot) {
    g.push({ type: 'text', x: x, y: y, rotation: rot || 0, silent: true,
        style: { text: s, font: font, fill: fill || '#000', textAlign: align || 'left', textVerticalAlign: 'middle' } });
}
function poly(points, color, width) {
    g.push({ type: 'polyline', silent: true, shape: { points: points }, style: { stroke: color, lineWidth: width, fill: null } });
}
function rect(x, y, w, h, fill, stroke, lw) {
    g.push({ type: 'rect', silent: true, shape: { x: x, y: y, width: w, height: h }, style: { fill: fill, stroke: stroke || null, lineWidth: lw || 0 } });
}
var bold40 = 'bold 40px ' + FONT, bold34 = 'bold 34.4px ' + FONT, legendFont = '30.2px ' + FONT;

txt(8, 38, 'A', 'bold 72px ' + FONT);
txt(6, 2504, 'B', 'bold 72px ' + FONT);
txt(2790, 2502, 'C', 'bold 72px ' + FONT);
txt(62, 177, 'Mutation spectrum', bold40);
txt(62, 241, 'Sex', bold40);
txt(2650, 198, 'Expression Heatmap', bold40);

redGenes.forEach(function (n, i) { txt(398, 313 + i * 33.55, n, 'bold 26.8px ' + FONT, '#000', 'right'); });
blueGenes.forEach(function (n, i) { txt(187, 808 + i * 30.9, n, 'bold 26.8px ' + FONT, '#000', 'right'); });
var RED = '#f00', BLUE = '#1433e6';
poly([[403, 304], [403, 1408]], RED, 5);
poly([[403, 815], [443, 815], [443, 688], [515, 688]], RED, 5);
poly([[515, 311], [515, 1102]], RED, 5);
poly([[197, 799], [197, 1960]], BLUE, 5);
poly([[197, 1297], [246, 1297], [246, 1512], [515, 1512]], BLUE, 5);
poly([[515, 1120], [515, 1988]], BLUE, 5);

// legend of panel A
txt(94, 2106, 'Genetic Alteration', bold34);
txt(94, 2308, 'Mutation spectrum', bold34);
txt(94, 2434, 'Sex', bold34);
function swatch(x, y, bg, inner) {
    rect(x, y, 16, 50, bg);
    if (inner) rect(x, y + 17, 16, 17, inner);
}
var grayBg = '#bebebe';
swatch(622, 2084, grayBg, '#a67c1f'); txt(649, 2113, 'Inframe Mutation (unknown significance)', legendFont);
swatch(1259, 2084, grayBg, '#008000'); txt(1286, 2113, 'Missense Mutation (putative driver)', legendFont);
swatch(1814, 2084, grayBg, '#5fd000'); txt(1841, 2113, 'Missense Mutation (unknown significance)', legendFont);
swatch(2482, 2084, grayBg, '#708090'); txt(2508, 2113, 'Truncating Mutation (unknown significance)', legendFont);
swatch(622, 2159, grayBg); txt(649, 2187, 'No alterations', legendFont);
swatch(916, 2159, '#ff0000'); txt(941, 2186, 'Amplification', legendFont);
swatch(1169, 2159, '#0000ff'); txt(1196, 2186, 'Deep Deletion', legendFont);
rect(1448, 2160, 15, 48, grayBg, '#f5a0a0', 3); txt(1473, 2186, 'mRNA High', legendFont);
rect(1691, 2160, 15, 48, grayBg, '#6f9ccb', 3); txt(1716, 2186, 'mRNA Low', legendFont);
swatch(622, 2286, '#3c6eb0'); txt(649, 2313, 'C>A', legendFont);
swatch(759, 2286, '#8ab6da'); txt(786, 2313, 'C>G', legendFont);
swatch(900, 2286, '#e1f2f8'); txt(926, 2313, 'C>T', legendFont);
swatch(1037, 2286, '#fddc8c'); txt(1063, 2313, 'T>A', legendFont);
swatch(1167, 2286, '#f88d59'); txt(1194, 2313, 'T>C', legendFont);
swatch(1302, 2286, '#d7261e'); txt(1331, 2313, 'T>G', legendFont);
swatch(622, 2412, '#df6a9f'); txt(649, 2439, 'Female', legendFont);
swatch(806, 2412, '#2d87e0'); txt(833, 2439, 'Male', legendFont);

// panel B labels and tree
var crimson = '#e0245a', indigo = '#2222cc', labelFont = '18.3px ' + FONT;
redFactors.forEach(function (n, i) { txt(277, 2577 + i * 23.2, n, labelFont, crimson, 'right'); });
blueFactors.forEach(function (n, i) { txt(122, 2762 + i * 23.15, n, labelFont, indigo, 'right'); });
poly([[283, 2567], [283, 3380]], crimson, 2);
poly([[283, 2919], [316, 2919], [316, 2985], [351, 2985]], crimson, 2);
poly([[351, 2764], [351, 3192]], crimson, 2);
poly([[129, 2748], [129, 3578]], indigo, 2);
poly([[129, 3118], [167, 3118], [167, 3422], [351, 3422]], indigo, 2);
poly([[351, 3197], [351, 3605]], indigo, 2);
poly([[397, 3614], [2298, 3614]], '#333', 2.5);
var cancerLabelLeft = [344,394,450,512,572,631,691,748,816,870,931,1000,1053,1109,1172,1233,1284,1344,1402,1480,1523,1577,1638,1698,1759,1814,1877,1933,1994,2052,2113,2181,2241];
cancerTypes.forEach(function (n, i) {
    g.push({ type: 'text', x: cancerLabelLeft[i] + 6, y: 2722, rotation: 50 * Math.PI / 180, silent: true,
        style: { text: n, font: '36px ' + FONT, fill: '#1f2d3d', textAlign: 'left', textVerticalAlign: 'middle' } });
});
exprBarTicks.forEach(function (v) { txt(2493, 3497 - v * 64.2, String(v), '40px ' + FONT, '#888'); });
txt(6, 3667, 'Splicing Factor', '44px ' + FONT);
txt(1128, 3667, 'Gene  expression', '44px ' + FONT);

// panel C texts
txt(3405, 2431, 'HCC', '51px ' + FONT, '#000', 'center');
txt(3432, 3645, '(num(T)=369; num(N)=50)', '35.5px ' + FONT, '#000', 'center');
txt(3432, 2536, '*', 'bold 60px ' + FONT, '#f00', 'center');
g.push({ type: 'text', x: 2989, y: 3011, rotation: Math.PI / 2, silent: true,
    style: { text: 'The Expression of TIA1 （scaled data）', font: '48px ' + CJK, fill: '#000', textAlign: 'center', textVerticalAlign: 'middle' } });

// ---------- chart ----------
var hidden = { show: false };
function hiddenValue(grid, min, max) {
    return { type: 'value', gridIndex: grid, min: min, max: max, show: false, splitLine: hidden };
}
var specNames = ['T>G', 'T>C', 'T>A', 'C>T', 'C>G', 'C>A'];
var specColors = ['#d7261e', '#f88d59', '#fddc8c', '#e1f2f8', '#8ab6da', '#3c6eb0'];
var specValues = [specTG, specTC, specTA, specCA.map(function (v, i) {
    return Math.max(0, 100 - v - specCG[i] - specTA[i] - specTC[i] - specTG[i]);
}), specCG, specCA];
var specCats = specCA.map(function (v, i) { return i; });
var specSeries = specNames.map(function (n, i) {
    return { name: n, type: 'bar', stack: 'spec', xAxisIndex: 0, yAxisIndex: 0, data: specValues[i], barWidth: '101%',
        itemStyle: { color: specColors[i] }, silent: true };
});
var heatCatsX = []; for (var hc = 0; hc < heatColumns; hc++) heatCatsX.push(hc);

var option = {
    animation: false,
    backgroundColor: '#fff',
    textStyle: { fontFamily: FONT },
    graphic: { elements: g },
    grid: [
        { left: 592, top: 157, width: 2040, height: 45 },
        { left: 592, top: 222, width: 2040, height: 44 },
        { left: 592, top: 300.8, width: 2040, height: 1670.6 },
        { left: 2652, top: 304, width: 1370, height: 895, show: true, backgroundColor: '#000018', borderWidth: 0 },
        { left: 2652, top: 1222, width: 1370, height: 746, show: true, backgroundColor: '#000018', borderWidth: 0 },
        { left: 3062, top: 182, width: 575, height: 43, show: true, borderColor: '#000', borderWidth: 2,
          backgroundColor: new echarts.graphic.LinearGradient(0, 0, 1, 0, [{ offset: 0, color: '#e81212' }, { offset: 0.17, color: '#8a1515' }, { offset: 0.33, color: '#4a1c14' }, { offset: 0.5, color: '#221816' }, { offset: 0.67, color: '#1c1540' }, { offset: 0.83, color: '#100e80' }, { offset: 1, color: '#0000cc' }]) },
        { left: 361.7, top: 2759, width: 1920.6, height: 846 },
        { left: 2401, top: 2774, width: 85, height: 720, show: true, borderColor: '#999', borderWidth: 4,
          backgroundColor: new echarts.graphic.LinearGradient(0, 0, 0, 1, [{ offset: 0, color: '#35b795' }, { offset: 1, color: '#ffffff' }]) },
        { left: 3119, top: 2489, width: 627, height: 1052, show: true, borderColor: '#000', borderWidth: 2 }
    ],
    xAxis: [
        { type: 'category', gridIndex: 0, data: specCats, show: false },
        hiddenValue(1, 0, sampleCount),
        hiddenValue(2, 0, sampleCount),
        { type: 'category', gridIndex: 3, data: heatCatsX, show: false },
        { type: 'category', gridIndex: 4, data: heatCatsX, show: false },
        { type: 'value', gridIndex: 5, min: -3.06, max: 3.06, inverse: true, position: 'top',
          axisLine: hidden, axisTick: hidden, splitLine: hidden,
          axisLabel: { customValues: [3, 2, 1, 0, -1, -2, -3], fontSize: 30, color: '#000', margin: 10, fontFamily: FONT } },
        { type: 'category', gridIndex: 6, data: cancerTypes, show: false },
        { type: 'value', gridIndex: 7, min: 0, max: 1, show: false },
        { type: 'value', gridIndex: 8, min: -0.113, max: 3.10, splitLine: hidden,
          axisLine: { onZero: false, lineStyle: { color: '#000', width: 2 } },
          axisTick: { customValues: [1, 2], length: 20, lineStyle: { color: '#000', width: 2 } },
          axisLabel: { customValues: [1, 2], margin: 24, fontSize: 50, color: '#000', fontFamily: FONT,
            formatter: function (v) { return v === 1 ? 'T' : 'N'; } } }
    ],
    yAxis: [
        hiddenValue(0, 0, 100),
        hiddenValue(1, 0, 1),
        { type: 'category', gridIndex: 2, inverse: true, data: rowPct,
          axisLine: hidden, axisTick: hidden, splitLine: hidden,
          axisLabel: { interval: 0, fontSize: 24, fontWeight: 'bold', color: '#000', margin: 6, fontFamily: FONT } },
        { type: 'category', gridIndex: 3, inverse: true, show: false, data: heatTop.map(function (v, i) { return i; }) },
        { type: 'category', gridIndex: 4, inverse: true, show: false, data: heatBottom.map(function (v, i) { return i; }) },
        hiddenValue(5, 0, 1),
        { type: 'category', gridIndex: 6, inverse: true, show: false, data: exprRows.map(function (v, i) { return i; }) },
        { type: 'value', gridIndex: 7, min: 0, max: 11.2, show: false },
        { type: 'value', gridIndex: 8, min: 0.73, max: 7.066, splitLine: hidden,
          axisLine: { onZero: false, lineStyle: { color: '#000', width: 2 } },
          axisTick: { customValues: [1, 2, 3, 4, 5, 6, 7], length: 20, lineStyle: { color: '#000', width: 2 } },
          axisLabel: { customValues: [1, 2, 3, 4, 5, 6, 7], rotate: 90, margin: 34, fontSize: 36, color: '#000', fontFamily: FONT } }
    ],
    visualMap: [
        { show: false, seriesIndex: [9, 10], dimension: 2, min: 0, max: 8,
          inRange: { color: ['#0000ff', '#0000b8', '#000058', '#00002a', '#000010', '#560000', '#a40000', '#d80000', '#ff0000'] } },
        { show: false, seriesIndex: 11, dimension: 2, min: 0, max: 11, inRange: { color: ['#ffffff', '#35b795'] } }
    ],
    series: specSeries.concat([
        // 6: sex
        { type: 'custom', xAxisIndex: 1, yAxisIndex: 1, renderItem: renderSex, silent: true, clip: false,
          data: [[0, sampleCount, 0]].concat(sexFemale.map(function (r) { return [r[0], r[1], 1]; })) },
        // 7: oncoprint rows
        { type: 'bar', xAxisIndex: 2, yAxisIndex: 2, barWidth: 17, silent: true, z: 1, itemStyle: { color: '#bebebe' },
          data: rowPct.map(function () { return sampleCount; }) },
        // 8: oncoprint alterations
        { type: 'custom', xAxisIndex: 2, yAxisIndex: 2, renderItem: renderOnco, silent: true, z: 4, data: oncoData,
          encode: { x: 0, y: 1 } },
        // 9, 10: expression heatmap
        { type: 'heatmap', xAxisIndex: 3, yAxisIndex: 3, data: heatCells(heatTop), silent: true, progressive: 0 },
        { type: 'heatmap', xAxisIndex: 4, yAxisIndex: 4, data: heatCells(heatBottom), silent: true, progressive: 0 },
        // 11: panel B
        { type: 'custom', xAxisIndex: 6, yAxisIndex: 6, renderItem: renderExpr, silent: true, data: exprData, encode: { x: 0, y: 1 } },
        // 12: box plots
        { type: 'custom', xAxisIndex: 8, yAxisIndex: 8, renderItem: renderBox, silent: true, data: [boxT, boxN],
          encode: { x: 0, y: [1, 2, 3, 4, 5] } },
        // 13, 14: jittered samples
        { type: 'scatter', xAxisIndex: 8, yAxisIndex: 8, symbolSize: 7, silent: true, z: 5, itemStyle: { color: '#000' }, data: pointsT },
        { type: 'scatter', xAxisIndex: 8, yAxisIndex: 8, symbolSize: 7, silent: true, z: 5, itemStyle: { color: '#000' }, data: pointsN },
        // 15: bracket
        { type: 'line', xAxisIndex: 8, yAxisIndex: 8, symbol: 'none', silent: true, connectNulls: false,
          lineStyle: { color: '#000', width: 2 }, data: bracket }
    ])
};
var myChart = echarts.init(document.getElementById('main'), null, { renderer: 'canvas', width: 4026, height: 3695 });
myChart.setOption(option);
</script>
</body>
</html>
